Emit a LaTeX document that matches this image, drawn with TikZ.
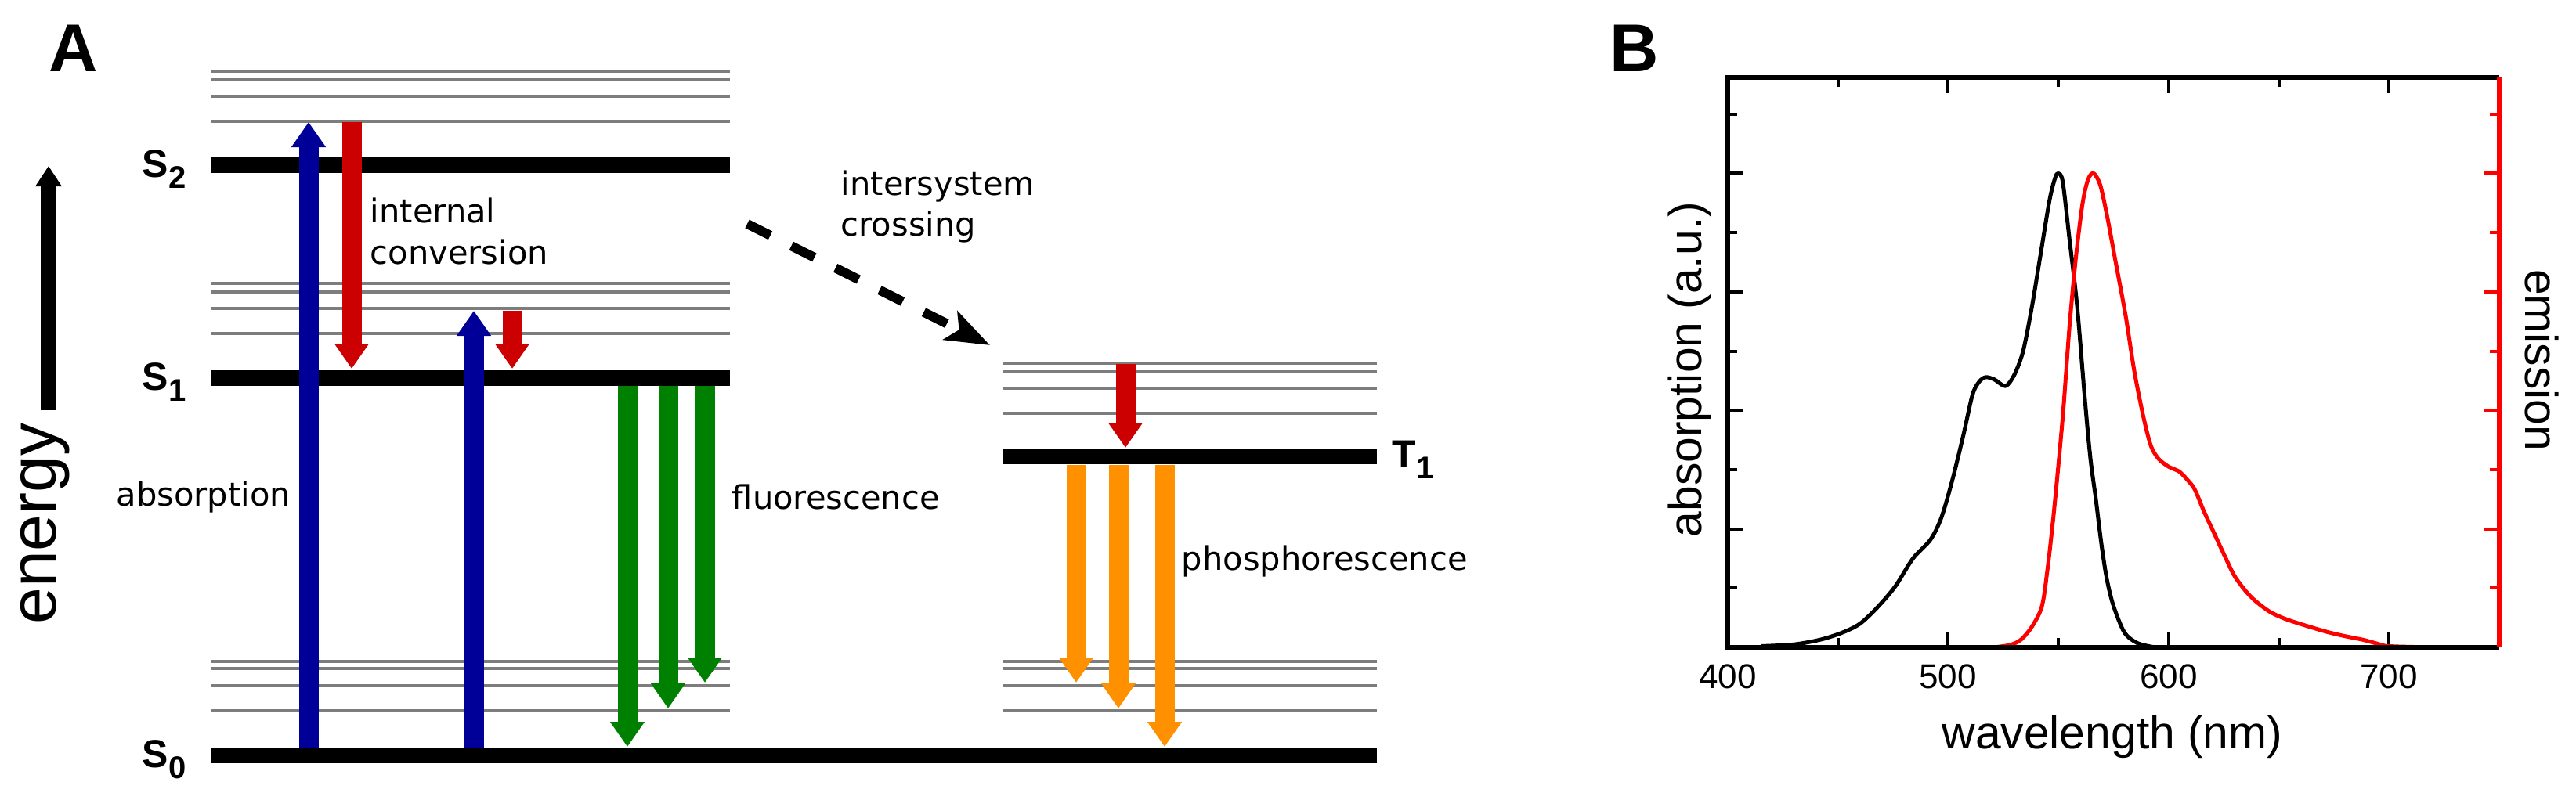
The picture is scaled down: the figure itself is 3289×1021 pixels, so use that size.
\documentclass[tikz,border=0pt]{standalone}
\usepackage{fontspec}
\setmainfont{Liberation Sans}
\newfontfamily\dejavu{DejaVu Sans}
\usetikzlibrary{arrows.meta}
\definecolor{absblue}{RGB}{0,0,153}
\definecolor{icred}{RGB}{204,0,0}
\definecolor{flgreen}{RGB}{0,128,0}
\definecolor{phorange}{RGB}{255,145,0}
\definecolor{vibgray}{RGB}{125,125,125}
\definecolor{emred}{RGB}{255,0,0}
\begin{document}
\begin{tikzpicture}[x=0.25pt,y=-0.25pt,
  level/.style={line width=5pt},
  vib/.style={line width=1.2pt, vibgray},
  blockarrow/.style={line width=6.25pt, -{Triangle[length=8pt,width=10.5pt]}},
  proc/.style={font={\dejavu\fontsize{10.4pt}{12pt}\selectfont}, inner sep=0pt, anchor=base west},
  statelab/.style={font={\fontsize{12.5pt}{14pt}\selectfont\bfseries}, inner sep=0pt, anchor=base west},
  panellab/.style={font={\fontsize{21.6pt}{24pt}\selectfont\bfseries}, inner sep=0pt, anchor=base west},
  axislab/.style={font={\fontsize{14.7pt}{17pt}\selectfont}, inner sep=0pt},
  ticklab/.style={font={\fontsize{11pt}{13pt}\selectfont}, inner sep=0pt},
  isc/.style={line width=3pt, dash pattern=on 8.25pt off 7.5pt, -{Stealth[length=14pt,width=10pt,inset=3pt]}},
  curve/.style={line width=1.25pt, line join=round}
]
\useasboundingbox (0,0) rectangle (3289,1021);

% ---------- Panel A ----------
\node[panellab] (labA) at (62,91) {A};

% energy axis
\coordinate (ens) at (62,524);
\coordinate (ene) at (62,212);
\draw[line width=5pt, -{Triangle[length=6.5pt,width=8pt]}] (ens) -- (ene);
\node[font={\fontsize{21pt}{24pt}\selectfont}, rotate=90, inner sep=0pt] (energy) at (58,669) {energy};

% vibrational levels
\foreach \y in {91,102,123,155} {\draw[vib] (270,\y) -- (932,\y);}
\foreach \y in {362,373,394,426} {\draw[vib] (270,\y) -- (932,\y);}
\foreach \y in {845,854,876,908} {\draw[vib] (270,\y) -- (932,\y);}
\foreach \y in {464,475,496,528} {\draw[vib] (1281,\y) -- (1758,\y);}
\foreach \y in {845,854,876,908} {\draw[vib] (1281,\y) -- (1758,\y);}

% electronic levels
\draw[level] (270,211) -- (932,211);
\draw[level] (270,483) -- (932,483);
\draw[level] (270,965) -- (1758,965);
\draw[level] (1281,583) -- (1758,583);

% state labels
\node[statelab] (S2) at (181,226) {S\raisebox{-3.5pt}{\fontsize{10pt}{12pt}\selectfont 2}};
\node[statelab] (S1) at (181,498) {S\raisebox{-3.5pt}{\fontsize{10pt}{12pt}\selectfont 1}};
\node[statelab] (S0) at (181,980) {S\raisebox{-3.5pt}{\fontsize{10pt}{12pt}\selectfont 0}};
\node[statelab] (T1) at (1777,597) {T\raisebox{-3.5pt}{\fontsize{10pt}{12pt}\selectfont 1}};

% arrow end points
\coordinate (b1s) at (394,955);  \coordinate (b1e) at (394,156);
\coordinate (r1s) at (449,156);  \coordinate (r1e) at (449,471);
\coordinate (b2s) at (605,955);  \coordinate (b2e) at (605,397);
\coordinate (r2s) at (654,397);  \coordinate (r2e) at (654,471);
\coordinate (g1s) at (801,493);  \coordinate (g1e) at (801,954);
\coordinate (g2s) at (853,493);  \coordinate (g2e) at (853,905);
\coordinate (g3s) at (900,493);  \coordinate (g3e) at (900,872);
\coordinate (r3s) at (1437,465); \coordinate (r3e) at (1437,572);
\coordinate (o1s) at (1374,594); \coordinate (o1e) at (1374,872);
\coordinate (o2s) at (1428,594); \coordinate (o2e) at (1428,905);
\coordinate (o3s) at (1487,594); \coordinate (o3e) at (1487,954);
\coordinate (iscs) at (954,286); \coordinate (isce) at (1264,441);

\draw[blockarrow, absblue] (b1s) -- (b1e);
\draw[blockarrow, icred] (r1s) -- (r1e);
\draw[blockarrow, absblue] (b2s) -- (b2e);
\draw[blockarrow, icred] (r2s) -- (r2e);
\draw[blockarrow, flgreen] (g1s) -- (g1e);
\draw[blockarrow, flgreen] (g2s) -- (g2e);
\draw[blockarrow, flgreen] (g3s) -- (g3e);
\draw[blockarrow, icred] (r3s) -- (r3e);
\draw[blockarrow, phorange] (o1s) -- (o1e);
\draw[blockarrow, phorange] (o2s) -- (o2e);
\draw[blockarrow, phorange] (o3s) -- (o3e);
\draw[isc] (iscs) -- (isce);

% process labels
\node[proc] (ic1) at (472,284) {internal};
\node[proc] (ic2) at (472,337) {conversion};
\node[proc] (isc1) at (1073,249) {intersystem};
\node[proc] (isc2) at (1073,301) {crossing};
\node[proc] (abs) at (148,646) {absorption};
\node[proc] (fl) at (934,650) {fluorescence};
\node[proc] (ph) at (1508,728) {phosphorescence};

% ---------- Panel B ----------
\node[panellab] (labB) at (2055,91) {B};

% ticks
\foreach \l in {500,600,700} {
  \draw[line width=1pt] ({2206+(\l-400)*2.814},99) -- ++(0,20);
  \draw[line width=1pt] ({2206+(\l-400)*2.814},827) -- ++(0,-20);
}
\foreach \l in {450,550,650} {
  \draw[line width=1pt] ({2206+(\l-400)*2.814},99) -- ++(0,12);
  \draw[line width=1pt] ({2206+(\l-400)*2.814},827) -- ++(0,-12);
}
\foreach \i in {2,4,6,8} {
  \draw[line width=1pt] (2206,{827-75.7*\i}) -- ++(20,0);
  \draw[line width=1pt, emred] (3191,{827-75.7*\i}) -- ++(-20,0);
}
\foreach \i in {1,3,5,7,9} {
  \draw[line width=1pt] (2206,{827-75.7*\i}) -- ++(12,0);
  \draw[line width=1pt, emred] (3191,{827-75.7*\i}) -- ++(-12,0);
}

% curves
\begin{scope}[shift={(1080.4,827)}, xscale=2.814, yscale=-75.7]
\draw[curve, black] plot[smooth, tension=0.5] coordinates {
 (415,0.02) (430,0.05) (442,0.13) (452,0.25) (460,0.4) (468,0.68) (476,1.03)
 (484,1.5) (492,1.82) (497,2.2) (502,2.84) (507,3.6) (511,4.26) (514,4.48)
 (517,4.56) (521,4.52) (526,4.41) (530,4.6) (534,5.0) (538,5.75) (542,6.65)
 (546,7.55) (548.5,7.92) (550,8.0) (552,7.85) (555,6.9) (558.5,5.76) (562,4.2)
 (564.5,3.2) (567,2.5) (569.5,1.75) (572,1.15) (575,0.7) (580,0.25) (586,0.07) (594,0.0)};
\draw[curve, emred] plot[smooth, tension=0.5] coordinates {
 (520.5,0.0) (528,0.04) (533,0.13) (538,0.35) (542.5,0.69) (545,1.3) (548,2.3)
 (552,3.9) (555,5.4) (558,6.6) (561,7.5) (563.5,7.9) (566,8.0) (569,7.8)
 (572,7.3) (576,6.5) (580.5,5.6) (584.5,4.65) (588.7,3.87) (592,3.4) (595.5,3.18)
 (600,3.05) (604.7,2.97) (608,2.85) (611.8,2.67) (616,2.3) (621,1.9) (626,1.5)
 (630,1.2) (635,0.95) (639.5,0.78) (646,0.6) (653,0.48) (662,0.37) (672,0.26)
 (680,0.19) (688,0.13) (695,0.06) (700,0.02) (720,0.0)};
\end{scope}

% axes frame
\draw[line width=1.5pt] (3191,99) -- (2206,99) -- (2206,827) -- (3191,827);
\draw[line width=1.5pt, emred] (3191,99) -- (3191,827);

% tick labels
\node[ticklab] (t400) at (2206,864) {400};
\node[ticklab] (t500) at (2487,864) {500};
\node[ticklab] (t600) at (2769,864) {600};
\node[ticklab] (t700) at (3050,864) {700};

% axis labels
\node[axislab] (xlab) at (2697,941) {wavelength (nm)};
\node[axislab, rotate=90] (ylab) at (2157,472) {absorption (a.u.)};
\node[axislab, rotate=-90] (y2lab) at (3245,460) {emission};
\end{tikzpicture}
\end{document}
